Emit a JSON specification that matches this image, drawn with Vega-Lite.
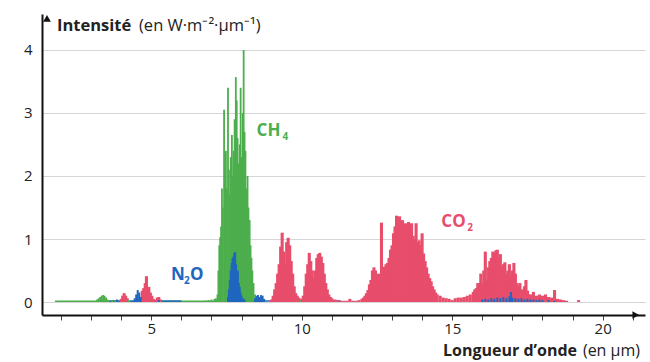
{
"$schema": "https://vega.github.io/schema/vega-lite/v6.json",
"width": 603, "height": 301,
"autosize": {"type": "none"},
"padding": {"left": 42, "top": 14, "right": 5, "bottom": 47},
"background": "white",
"config": {"view": {"stroke": null}, "font": "Open Sans", "axis": {"labelFont": "Open Sans", "labelColor": "#222"}},
"datasets": {
"co2": [
{"w":4.0,"v":0.05},{"w":4.05,"v":0.1},{"w":4.1,"v":0.14},{"w":4.15,"v":0.1},{"w":4.2,"v":0.06},
{"w":4.7,"v":0.18},{"w":4.75,"v":0.22},{"w":4.8,"v":0.3},{"w":4.84,"v":0.41},{"w":4.88,"v":0.2},{"w":4.92,"v":0.24},{"w":4.97,"v":0.15},{"w":5.02,"v":0.1},{"w":5.07,"v":0.05},
{"w":5.2,"v":0.07},{"w":5.25,"v":0.08},{"w":5.3,"v":0.04},{"w":7.6,"v":0.03},{"w":7.9,"v":0.03},
{"w":9.0,"v":0.04},{"w":9.05,"v":0.1},{"w":9.1,"v":0.2},{"w":9.15,"v":0.3},{"w":9.2,"v":0.45},{"w":9.25,"v":0.6},{"w":9.3,"v":0.88},{"w":9.35,"v":1.1},{"w":9.4,"v":0.8},{"w":9.45,"v":0.62},{"w":9.5,"v":0.95},{"w":9.55,"v":1.02},{"w":9.6,"v":0.9},{"w":9.65,"v":0.65},{"w":9.7,"v":0.45},{"w":9.75,"v":0.25},{"w":9.8,"v":0.14},{"w":9.85,"v":0.1},{"w":9.9,"v":0.07},{"w":9.95,"v":0.05},
{"w":10.0,"v":0.05},{"w":10.05,"v":0.1},{"w":10.1,"v":0.25},{"w":10.15,"v":0.45},{"w":10.2,"v":0.6},{"w":10.25,"v":0.78},{"w":10.3,"v":0.65},{"w":10.35,"v":0.5},{"w":10.4,"v":0.38},{"w":10.45,"v":0.5},{"w":10.5,"v":0.7},{"w":10.55,"v":0.76},{"w":10.6,"v":0.78},{"w":10.65,"v":0.72},{"w":10.7,"v":0.62},{"w":10.75,"v":0.45},{"w":10.8,"v":0.3},{"w":10.85,"v":0.2},{"w":10.9,"v":0.12},{"w":10.95,"v":0.08},
{"w":11.0,"v":0.06},{"w":11.1,"v":0.04},{"w":11.2,"v":0.03},{"w":11.3,"v":0.02},{"w":11.4,"v":0.02},{"w":11.5,"v":0.02},{"w":11.6,"v":0.05},{"w":11.7,"v":0.02},{"w":11.8,"v":0.02},{"w":11.9,"v":0.03},
{"w":12.0,"v":0.05},{"w":12.05,"v":0.07},{"w":12.1,"v":0.1},{"w":12.15,"v":0.14},{"w":12.2,"v":0.19},{"w":12.25,"v":0.28},{"w":12.3,"v":0.35},{"w":12.35,"v":0.5},{"w":12.4,"v":0.55},{"w":12.45,"v":0.5},{"w":12.5,"v":0.3},{"w":12.55,"v":0.45},{"w":12.6,"v":0.35},{"w":12.65,"v":1.26},{"w":12.7,"v":0.25},{"w":12.75,"v":0.56},{"w":12.8,"v":0.6},{"w":12.85,"v":0.62},{"w":12.9,"v":0.7},{"w":12.95,"v":0.83},
{"w":13.0,"v":0.9},{"w":13.05,"v":1.09},{"w":13.1,"v":1.2},{"w":13.15,"v":1.37},{"w":13.2,"v":1.35},{"w":13.25,"v":1.36},{"w":13.3,"v":1.27},{"w":13.35,"v":1.3},{"w":13.4,"v":1.2},{"w":13.45,"v":1.25},{"w":13.5,"v":1.18},{"w":13.55,"v":1.27},{"w":13.6,"v":1.15},{"w":13.65,"v":1.25},{"w":13.7,"v":1.05},{"w":13.75,"v":1.0},{"w":13.8,"v":1.25},{"w":13.85,"v":0.95},{"w":13.9,"v":0.98},{"w":13.95,"v":0.9},
{"w":14.0,"v":1.09},{"w":14.05,"v":0.77},{"w":14.1,"v":0.65},{"w":14.15,"v":0.55},{"w":14.2,"v":0.45},{"w":14.25,"v":0.38},{"w":14.3,"v":0.33},{"w":14.35,"v":0.25},{"w":14.4,"v":0.2},{"w":14.45,"v":0.15},{"w":14.5,"v":0.12},{"w":14.6,"v":0.1},{"w":14.7,"v":0.07},{"w":14.8,"v":0.06},{"w":14.9,"v":0.05},
{"w":15.0,"v":0.03},{"w":15.1,"v":0.06},{"w":15.2,"v":0.07},{"w":15.3,"v":0.07},{"w":15.4,"v":0.08},{"w":15.5,"v":0.1},{"w":15.6,"v":0.12},{"w":15.7,"v":0.16},{"w":15.75,"v":0.2},{"w":15.8,"v":0.22},{"w":15.85,"v":0.3},{"w":15.9,"v":0.3},{"w":15.95,"v":0.45},
{"w":16.0,"v":0.3},{"w":16.05,"v":0.5},{"w":16.1,"v":0.8},{"w":16.15,"v":0.35},{"w":16.2,"v":0.55},{"w":16.25,"v":0.65},{"w":16.3,"v":0.7},{"w":16.35,"v":0.8},{"w":16.4,"v":0.78},{"w":16.45,"v":0.82},{"w":16.5,"v":0.83},{"w":16.55,"v":0.7},{"w":16.6,"v":0.76},{"w":16.65,"v":0.55},{"w":16.7,"v":0.6},{"w":16.75,"v":0.63},{"w":16.8,"v":0.45},{"w":16.85,"v":0.5},{"w":16.9,"v":0.6},{"w":16.95,"v":0.4},
{"w":17.0,"v":0.5},{"w":17.05,"v":0.62},{"w":17.1,"v":0.45},{"w":17.15,"v":0.3},{"w":17.2,"v":0.25},{"w":17.25,"v":0.3},{"w":17.3,"v":0.2},{"w":17.35,"v":0.15},{"w":17.4,"v":0.25},{"w":17.45,"v":0.35},{"w":17.5,"v":0.18},{"w":17.55,"v":0.12},{"w":17.6,"v":0.12},{"w":17.7,"v":0.16},{"w":17.8,"v":0.1},{"w":17.9,"v":0.12},
{"w":18.0,"v":0.1},{"w":18.1,"v":0.12},{"w":18.2,"v":0.08},{"w":18.3,"v":0.07},{"w":18.4,"v":0.19},{"w":18.5,"v":0.05},{"w":18.6,"v":0.04},{"w":18.7,"v":0.03},{"w":18.8,"v":0.02},{"w":19.2,"v":0.03}
],
"ch4": [
{"w":3.2,"v":0.04},{"w":3.25,"v":0.06},{"w":3.3,"v":0.08},{"w":3.35,"v":0.1},{"w":3.4,"v":0.11},{"w":3.45,"v":0.1},{"w":3.5,"v":0.07},{"w":3.55,"v":0.04},{"w":3.7,"v":0.03},{"w":3.8,"v":0.02},{"w":4.25,"v":0.03},
{"w":6.8,"v":0.02},{"w":6.9,"v":0.03},{"w":7.0,"v":0.04},{"w":7.1,"v":0.05},{"w":7.15,"v":0.06},
{"w":7.2,"v":0.12},{"w":7.23,"v":0.5},{"w":7.26,"v":0.9},{"w":7.29,"v":1.03},{"w":7.32,"v":1.2},{"w":7.35,"v":1.8},{"w":7.38,"v":1.5},{"w":7.42,"v":3.05},{"w":7.45,"v":2.0},{"w":7.48,"v":2.4},{"w":7.51,"v":1.8},{"w":7.55,"v":3.4},{"w":7.58,"v":2.1},{"w":7.61,"v":1.7},{"w":7.64,"v":2.3},{"w":7.68,"v":2.65},{"w":7.71,"v":2.0},{"w":7.74,"v":2.4},{"w":7.77,"v":2.9},{"w":7.81,"v":3.57},{"w":7.84,"v":3.2},{"w":7.87,"v":2.6},{"w":7.9,"v":2.2},{"w":7.94,"v":2.5},{"w":7.97,"v":3.4},{"w":8.0,"v":2.3},{"w":8.04,"v":3.0},{"w":8.07,"v":4.0},{"w":8.1,"v":2.7},{"w":8.13,"v":2.4},{"w":8.17,"v":1.8},{"w":8.2,"v":2.0},{"w":8.23,"v":1.5},{"w":8.27,"v":1.3},{"w":8.3,"v":0.9},{"w":8.33,"v":0.7},{"w":8.36,"v":0.5},{"w":8.4,"v":0.3},{"w":8.45,"v":0.12},{"w":8.5,"v":0.06},{"w":8.6,"v":0.04},{"w":8.7,"v":0.03},{"w":9.95,"v":0.03}
],
"n2o": [
{"w":3.86,"v":0.04},{"w":4.45,"v":0.06},{"w":4.5,"v":0.12},{"w":4.55,"v":0.19},{"w":4.6,"v":0.15},{"w":4.65,"v":0.08},{"w":5.25,"v":0.03},
{"w":7.55,"v":0.08},{"w":7.58,"v":0.2},{"w":7.61,"v":0.35},{"w":7.64,"v":0.5},{"w":7.67,"v":0.62},{"w":7.7,"v":0.7},{"w":7.73,"v":0.72},{"w":7.76,"v":0.78},{"w":7.79,"v":0.79},{"w":7.82,"v":0.6},{"w":7.85,"v":0.45},{"w":7.88,"v":0.5},{"w":7.91,"v":0.3},{"w":7.94,"v":0.24},{"w":7.97,"v":0.15},{"w":8.0,"v":0.1},{"w":8.05,"v":0.06},{"w":8.1,"v":0.04},
{"w":8.45,"v":0.06},{"w":8.5,"v":0.1},{"w":8.55,"v":0.11},{"w":8.6,"v":0.08},{"w":8.65,"v":0.11},{"w":8.7,"v":0.1},{"w":8.75,"v":0.05},
{"w":16.0,"v":0.04},{"w":16.1,"v":0.05},{"w":16.2,"v":0.04},{"w":16.3,"v":0.06},{"w":16.4,"v":0.05},{"w":16.5,"v":0.07},{"w":16.6,"v":0.06},{"w":16.7,"v":0.08},{"w":16.8,"v":0.06},{"w":16.9,"v":0.09},{"w":16.95,"v":0.16},{"w":17.0,"v":0.07},{"w":17.1,"v":0.06},{"w":17.2,"v":0.05},{"w":17.3,"v":0.06},{"w":17.4,"v":0.04},{"w":17.5,"v":0.05},{"w":17.6,"v":0.04},{"w":17.7,"v":0.04},{"w":17.8,"v":0.03},{"w":17.9,"v":0.04},{"w":18.0,"v":0.03},{"w":18.2,"v":0.03},{"w":18.4,"v":0.02}
],
"gbase": [{"w":1.8,"v":0.012},{"w":7.2,"v":0.012}],
"bbase": [
{"seg":"a","w":3.6,"v":0.015},{"seg":"a","w":4.0,"v":0.015},
{"seg":"b","w":4.3,"v":0.015},{"seg":"b","w":4.8,"v":0.015},
{"seg":"c","w":5.0,"v":0.015},{"seg":"c","w":6.0,"v":0.015},
{"seg":"d","w":8.4,"v":0.015},{"seg":"d","w":11.3,"v":0.015},
{"seg":"e","w":15.9,"v":0.015},{"seg":"e","w":18.5,"v":0.015}
],
"labels": [
{"t":"CH","w":8.5,"v":2.71,"g":"ch4"},
{"t":"N","w":5.654,"v":0.43,"g":"n2o"},
{"t":"CO","w":14.64,"v":1.27,"g":"co2"}
],
"subs": [
{"t":"4","w":8.5,"v":2.71,"g":"ch4"},
{"t":"2","w":14.64,"v":1.27,"g":"co2"}
],
"nsub": [{"t":"2","w":5.654,"v":0.43,"g":"n2o"}],
"nO": [{"t":"O","w":5.654,"v":0.43,"g":"n2o"}],
"ytitle": [{"w":1.536,"v":4.38}],
"xtitle": [{"w":21.24,"v":-0.77}],
"arrowx": [{"w":21.1,"v":-0.206}],
"arrowy": [{"w":1.536,"v":4.5}]
},
"encoding": {
 "x": {"field": "w", "type": "quantitative", "scale": {"domain": [1.536, 21.24], "nice": false, "zero": false},
  "axis": {"title": null, "values": [2,3,4,5,6,7,8,9,10,11,12,13,14,15,16,17,18,19,20,21], "labelExpr": "datum.value % 5 === 0 ? datum.label : ''", "grid": false, "domainColor": "#111", "domainWidth": 2, "tickColor": "#444", "tickSize": 5, "labelFontSize": 15, "labelPadding": 1}},
 "y": {"field": "v", "type": "quantitative", "scale": {"domain": [-0.206, 4.571], "nice": false, "zero": false},
  "axis": {"title": null, "values": [0,1,2,3,4], "format": "d", "grid": true, "gridColor": "#d6d6d6", "gridWidth": 1, "ticks": false, "domainColor": "#111", "domainWidth": 2, "labelFontSize": 15, "labelPadding": 10}}
},
"layer": [
{"data": {"name": "gbase"}, "mark": {"type": "line", "color": "#4cae4c", "strokeWidth": 1.5}},
{"data": {"name": "bbase"}, "mark": {"type": "line", "color": "#1f66bf", "strokeWidth": 1.5}, "encoding": {"detail": {"field": "seg"}}},
{"data": {"name": "co2"}, "mark": {"type": "bar", "size": 3.1, "color": "#e84d6c"}, "encoding": {"y2": {"datum": 0}}},
{"data": {"name": "ch4"}, "mark": {"type": "bar", "size": 1.8, "color": "#4cae4c"}, "encoding": {"y2": {"datum": 0}}},
{"data": {"name": "n2o"}, "mark": {"type": "bar", "size": 2, "color": "#1f66bf"}, "encoding": {"y2": {"datum": 0}}},
{"data": {"name": "labels"}, "mark": {"type": "text", "align": "left", "baseline": "middle", "fontSize": 17, "fontWeight": "bold"},
 "encoding": {"text": {"field": "t"},
  "color": {"field": "g", "type": "nominal", "scale": {"domain": ["co2","ch4","n2o"], "range": ["#e84d6c","#4cae4c","#1f66bf"]}, "legend": null}}},
{"data": {"name": "subs"}, "mark": {"type": "text", "align": "left", "baseline": "middle", "fontSize": 10, "fontWeight": "bold", "dx": 26, "dy": 6},
 "encoding": {"text": {"field": "t"}, "color": {"field": "g", "type": "nominal", "legend": null}}},
{"data": {"name": "nsub"}, "mark": {"type": "text", "align": "left", "baseline": "middle", "fontSize": 10, "fontWeight": "bold", "dx": 13, "dy": 6},
 "encoding": {"text": {"field": "t"}, "color": {"field": "g", "type": "nominal", "legend": null}}},
{"data": {"name": "nO"}, "mark": {"type": "text", "align": "left", "baseline": "middle", "fontSize": 17, "fontWeight": "bold", "dx": 19},
 "encoding": {"text": {"field": "t"}, "color": {"field": "g", "type": "nominal", "legend": null}}},
{"data": {"name": "ytitle"}, "mark": {"type": "text", "text": "Intensité", "align": "left", "baseline": "middle", "fontSize": 16.5, "fontWeight": "bold", "color": "#222", "dx": 10}},
{"data": {"name": "ytitle"}, "mark": {"type": "text", "text": "(en W·m⁻²·µm⁻¹)", "align": "left", "baseline": "middle", "fontSize": 16.5, "color": "#222", "dx": 92}},
{"data": {"name": "xtitle"}, "mark": {"type": "text", "text": "(en µm)", "align": "right", "baseline": "middle", "fontSize": 16, "color": "#222"}},
{"data": {"name": "xtitle"}, "mark": {"type": "text", "text": "Longueur d’onde", "align": "right", "baseline": "middle", "fontSize": 16, "fontWeight": "bold", "color": "#222", "dx": -63}},
{"data": {"name": "arrowx"}, "mark": {"type": "point", "shape": "triangle-right", "filled": true, "color": "#111", "size": 60, "opacity": 1}},
{"data": {"name": "arrowy"}, "mark": {"type": "point", "shape": "triangle-up", "filled": true, "color": "#111", "size": 60, "opacity": 1}}
]
}
